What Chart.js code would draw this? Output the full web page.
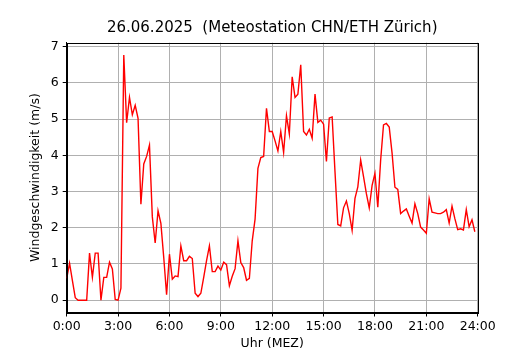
<!DOCTYPE html>
<html>
<head>
<meta charset="utf-8">
<script src="https://cdn.jsdelivr.net/npm/chart.js@4.4.0/dist/chart.umd.min.js"></script>
<style>
  html, body { margin: 0; padding: 0; background: #fff; }
  canvas { display: block; }
</style>
</head>
<body>
<canvas id="windChart" width="530" height="350"></canvas>
<script>
// Messwerte alle 10 Minuten, 0:00 bis 23:50 (m/s)
var wind = [
  0.6, 1.02, 0.54, 0.07, 0.0, 0.0, 0.0, 0.0, 1.3, 0.63, 1.3, 1.3,
  0.0, 0.63, 0.63, 1.05, 0.86, 0.02, 0.0, 0.33, 6.77, 4.9, 5.6, 5.12,
  5.38, 5.02, 2.65, 3.76, 3.97, 4.28, 2.3, 1.58, 2.47, 2.12, 1.18, 0.15,
  1.27, 0.58, 0.67, 0.65, 1.5, 1.09, 1.09, 1.21, 1.15, 0.19, 0.1, 0.19,
  0.63, 1.09, 1.5, 0.79, 0.79, 0.94, 0.83, 1.05, 0.98, 0.4, 0.66, 0.87,
  1.64, 1.04, 0.9, 0.55, 0.6, 1.64, 2.24, 3.64, 3.94, 3.97, 5.3, 4.66,
  4.66, 4.4, 4.12, 4.66, 4.08, 5.09, 4.59, 6.17, 5.6, 5.69, 6.5, 4.66,
  4.56, 4.72, 4.47, 5.69, 4.91, 4.97, 4.86, 3.83, 5.03, 5.06, 3.55, 2.09,
  2.05, 2.55, 2.74, 2.39, 1.93, 2.81, 3.13, 3.87, 3.41, 2.94, 2.55, 3.17,
  3.5, 2.57, 3.87, 4.84, 4.88, 4.78, 4.06, 3.12, 3.06, 2.39, 2.46, 2.52,
  2.32, 2.13, 2.66, 2.39, 2.02, 1.94, 1.85, 2.8, 2.43, 2.41, 2.39, 2.39,
  2.43, 2.5, 2.13, 2.6, 2.25, 1.95, 1.97, 1.94, 2.5, 2.03, 2.22, 1.89
];
var intervallMinuten = 10;

var xTickMinuten = [0, 180, 360, 540, 720, 900, 1080, 1260, 1440];
var xTickLabels = ['0:00', '3:00', '6:00', '9:00', '12:00', '15:00', '18:00', '21:00', '24:00'];
var yTicks = [0, 1, 2, 3, 4, 5, 6, 7];

var titel = '26.06.2025  (Meteostation CHN/ETH Zürich)';

var punkte = wind.map(function (v, i) {
  return { x: i * intervallMinuten, y: v };
});

var schrift = 'DejaVu Sans';
Chart.defaults.color = '#000';
Chart.defaults.font.family = schrift;

// Titel über der Mitte der Zeichenfläche und Rahmen rundherum
var rahmenUndTitel = {
  id: 'rahmenUndTitel',
  afterDraw: function (chart) {
    var ctx = chart.ctx;
    var a = chart.chartArea;
    ctx.save();
    ctx.strokeStyle = '#000';
    ctx.lineWidth = 1;
    ctx.strokeRect(Math.round(a.left) + 0.5, Math.round(a.top) + 0.5,
      Math.round(a.right - a.left), Math.round(a.bottom - a.top));
    ctx.fillStyle = '#000';
    ctx.font = '15px "' + schrift + '"';
    ctx.textAlign = 'center';
    ctx.textBaseline = 'middle';
    ctx.fillText(titel, (a.left + a.right) / 2, 28.5);
    ctx.restore();
  }
};

new Chart(document.getElementById('windChart'), {
  type: 'line',
  data: {
    datasets: [{
      data: punkte,
      borderColor: '#ff0000',
      borderWidth: 1.4,
      pointRadius: 0,
      tension: 0,
      fill: false
    }]
  },
  options: {
    responsive: false,
    animation: false,
    devicePixelRatio: 1,
    layout: { padding: { top: 42.7, right: 52.3, bottom: 0, left: 0 } },
    plugins: {
      legend: { display: false },
      tooltip: { enabled: false },
      title: { display: false }
    },
    scales: {
      x: {
        type: 'linear',
        min: 0,
        max: 1440,
        afterBuildTicks: function (scale) {
          scale.ticks = xTickMinuten.map(function (v) { return { value: v }; });
        },
        afterFit: function (scale) { scale.height = 37.5; },
        ticks: {
          autoSkip: false,
          maxRotation: 0,
          padding: 3,
          font: { size: 12.5 },
          callback: function (v, i) { return xTickLabels[i]; }
        },
        grid: { color: '#b0b0b0', lineWidth: 1, tickColor: '#000', tickLength: 4 },
        border: { color: '#000', width: 1 },
        title: { display: true, text: 'Uhr (MEZ)', font: { size: 12.5 }, padding: { top: 0, bottom: -1 } }
      },
      y: {
        min: -0.34,
        max: 7.11,
        afterBuildTicks: function (scale) {
          scale.ticks = yTicks.map(function (v) { return { value: v }; });
        },
        afterFit: function (scale) { scale.width = 66.7; },
        ticks: { padding: 4, font: { size: 12.5 } },
        grid: { color: '#b0b0b0', lineWidth: 1, tickColor: '#000', tickLength: 4 },
        border: { color: '#000', width: 1 },
        title: { display: true, text: 'Windgeschwindigkeit (m/s)', font: { size: 12.5 }, padding: { top: 28, bottom: 0 } }
      }
    }
  },
  plugins: [rahmenUndTitel]
});
</script>
</body>
</html>
